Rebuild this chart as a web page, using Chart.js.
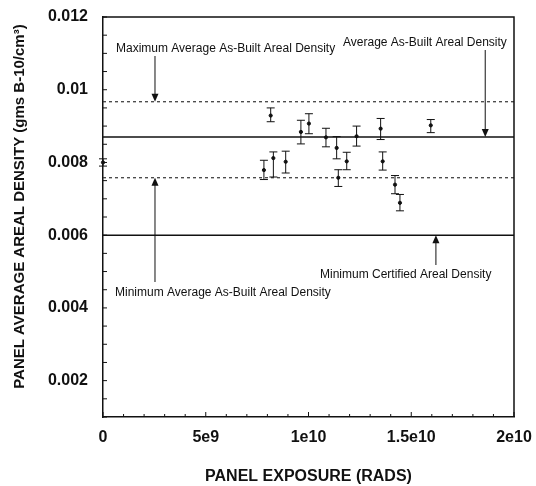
<!DOCTYPE html>
<html>
<head>
<meta charset="utf-8">
<script src="https://cdn.jsdelivr.net/npm/chart.js@4.4.0/dist/chart.umd.min.js"></script>
<style>
html, body { margin: 0; padding: 0; background: #fff; }
#wrap { width: 536px; height: 486px; }
</style>
</head>
<body>
<div id="wrap"><canvas id="densityChart" width="536" height="486"></canvas></div>
<script>
// panel exposure (rads) and measured areal density with error range
var exposure    = [0, 7.83e9, 8.16e9, 8.29e9, 8.89e9, 9.63e9, 1.002e10, 1.085e10, 1.137e10, 1.145e10, 1.186e10, 1.234e10, 1.351e10, 1.361e10, 1.421e10, 1.445e10, 1.595e10];
var density     = [0.0080, 0.00779, 0.00929, 0.00812, 0.00802, 0.00884, 0.00907, 0.00869, 0.00840, 0.00758, 0.00803, 0.00872, 0.00893, 0.00803, 0.00739, 0.00689, 0.00902];
var densityLow  = [0.0079, 0.00753, 0.00912, 0.00760, 0.00771, 0.00851, 0.00879, 0.00843, 0.00810, 0.00734, 0.00780, 0.00845, 0.00863, 0.00779, 0.00714, 0.00667, 0.00882];
var densityHigh = [0.0081, 0.00806, 0.00950, 0.00829, 0.00831, 0.00916, 0.00934, 0.00894, 0.00871, 0.00780, 0.00828, 0.00900, 0.00921, 0.00829, 0.00764, 0.00712, 0.00918];

// reference levels
var maxAvgBuilt  = 0.00967;
var avgBuilt     = 0.0087;
var minAvgBuilt  = 0.00758;
var minCertified = 0.006;

var xTicks = [0, 5e9, 1e10, 1.5e10, 2e10];
var xTickLabels = ['0', '5e9', '1e10', '1.5e10', '2e10'];
var yTicks = [0.002, 0.004, 0.006, 0.008, 0.01, 0.012];
var yTickLabels = ['0.002', '0.004', '0.006', '0.008', '0.01', '0.012'];

var xMin = 0, xMax = 2e10, yMin = 0.001, yMax = 0.012;

Chart.defaults.font.family = '"Liberation Sans", Arial, sans-serif';
Chart.defaults.color = '#111';

function refLine(level, dashed, width) {
    return {
        type: 'line',
        data: [{ x: xMin, y: level }, { x: xMax, y: level }],
        borderColor: dashed ? '#333' : '#111',
        borderWidth: width,
        borderDash: dashed ? [3, 3] : [],
        pointRadius: 0,
        fill: false
    };
}

// keep label overflow from pushing the plot area in
function noScalePadding(s) {
    s.paddingTop = 0;
    s.paddingBottom = 0;
    s.paddingLeft = 0;
    s.paddingRight = 0;
}

var whiteBg = {
    id: 'whiteBg',
    beforeDraw: function (chart) {
        var c = chart.ctx;
        c.save();
        c.fillStyle = '#fff';
        c.fillRect(0, 0, chart.width, chart.height);
        c.restore();
    }
};

// error bars, inner ticks, frame and the labelled arrows
var extras = {
    id: 'extras',
    afterDatasetsDraw: function (chart) {
        var c = chart.ctx, x = chart.scales.x, y = chart.scales.y, a = chart.chartArea;
        c.save();
        c.strokeStyle = '#111';
        c.lineWidth = 1;
        for (var i = 0; i < exposure.length; i++) {
            var px = x.getPixelForValue(exposure[i]);
            var lo = y.getPixelForValue(densityLow[i]);
            var hi = y.getPixelForValue(densityHigh[i]);
            c.beginPath();
            c.moveTo(px, lo); c.lineTo(px, hi);
            c.moveTo(px - 4, lo); c.lineTo(px + 4, lo);
            c.moveTo(px - 4, hi); c.lineTo(px + 4, hi);
            c.stroke();
        }

        // frame top and right
        c.lineWidth = 1.5;
        c.beginPath();
        c.moveTo(a.left, a.top); c.lineTo(a.right, a.top); c.lineTo(a.right, a.bottom);
        c.stroke();

        // inward ticks
        c.lineWidth = 1;
        c.beginPath();
        for (var v = xMin; v <= xMax; v += 1e9) {
            var tx = x.getPixelForValue(v);
            var len = (Math.round(v / 1e9) % 5 === 0) ? 5 : 3;
            c.moveTo(tx, a.bottom); c.lineTo(tx, a.bottom - len);
        }
        for (var k = 2; k <= 24; k++) {
            var ty = y.getPixelForValue(k * 0.0005);
            c.moveTo(a.left, ty); c.lineTo(a.left + 4, ty);
        }
        c.stroke();

        function arrow(dx, fromY, level) {
            var ax = x.getPixelForValue(dx);
            var tip = y.getPixelForValue(level);
            var dir = tip > fromY ? 1 : -1;
            c.beginPath();
            c.moveTo(ax, fromY); c.lineTo(ax, tip - dir * 7);
            c.stroke();
            c.beginPath();
            c.moveTo(ax, tip);
            c.lineTo(ax - 3.5, tip - dir * 8);
            c.lineTo(ax + 3.5, tip - dir * 8);
            c.closePath();
            c.fill();
        }
        c.fillStyle = '#111';
        arrow(2.53e9, 56, maxAvgBuilt);
        arrow(1.86e10, 50, avgBuilt);
        arrow(2.53e9, 282, minAvgBuilt);
        arrow(1.62e10, 265, minCertified);

        c.font = '12px "Liberation Sans", Arial, sans-serif';
        c.textBaseline = 'middle';
        c.textAlign = 'left';
        c.fillText('Maximum Average As-Built Areal Density', 116, 49);
        c.fillText('Average As-Built Areal Density', 343, 43);
        c.fillText('Minimum Average As-Built Areal Density', 115, 293);
        c.fillText('Minimum Certified Areal Density', 320, 275);
        c.restore();
    }
};

var ctx = document.getElementById('densityChart');
new Chart(ctx, {
    type: 'scatter',
    data: {
        datasets: [
            {
                data: exposure.map(function (v, i) { return { x: v, y: density[i] }; }),
                backgroundColor: '#111',
                borderColor: '#111',
                pointRadius: 1.6,
                clip: false
            },
            refLine(maxAvgBuilt, true, 1.2),
            refLine(avgBuilt, false, 1.5),
            refLine(minAvgBuilt, true, 1.2),
            refLine(minCertified, false, 1.5)
        ]
    },
    options: {
        responsive: false,
        animation: false,
        layout: { padding: { left: 0, right: 22, top: 17, bottom: 0 } },
        plugins: {
            legend: { display: false },
            tooltip: { enabled: false }
        },
        scales: {
            x: {
                type: 'linear',
                min: xMin,
                max: xMax,
                afterBuildTicks: function (s) { s.ticks = xTicks.map(function (v) { return { value: v }; }); },
                afterFit: function (s) { s.height = 69; noScalePadding(s); },
                grid: { display: false, drawTicks: false },
                border: { display: true, color: '#111', width: 1.5 },
                ticks: {
                    padding: 11,
                    maxRotation: 0,
                    font: { size: 16, weight: 'bold' },
                    callback: function (v) { var i = xTicks.indexOf(v); return i >= 0 ? xTickLabels[i] : ''; }
                },
                title: {
                    display: true,
                    text: 'PANEL EXPOSURE (RADS)',
                    font: { size: 16, weight: 'bold' },
                    padding: { top: 0, bottom: 0 }
                }
            },
            y: {
                min: yMin,
                max: yMax,
                afterBuildTicks: function (s) { s.ticks = yTicks.map(function (v) { return { value: v }; }); },
                afterFit: function (s) { s.width = 103; noScalePadding(s); },
                grid: { display: false, drawTicks: false },
                border: { display: true, color: '#111', width: 1.5 },
                ticks: {
                    padding: 15,
                    font: { size: 16, weight: 'bold' },
                    callback: function (v) { var i = yTicks.indexOf(v); return i >= 0 ? yTickLabels[i] : ''; }
                },
                title: {
                    display: true,
                    text: '     PANEL AVERAGE AREAL DENSITY (gms B-10/cm\u00b3)',
                    font: { size: 15, weight: 'bold' },
                    padding: { top: 11, bottom: 0 }
                }
            }
        }
    },
    plugins: [whiteBg, extras]
});
</script>
</body>
</html>
